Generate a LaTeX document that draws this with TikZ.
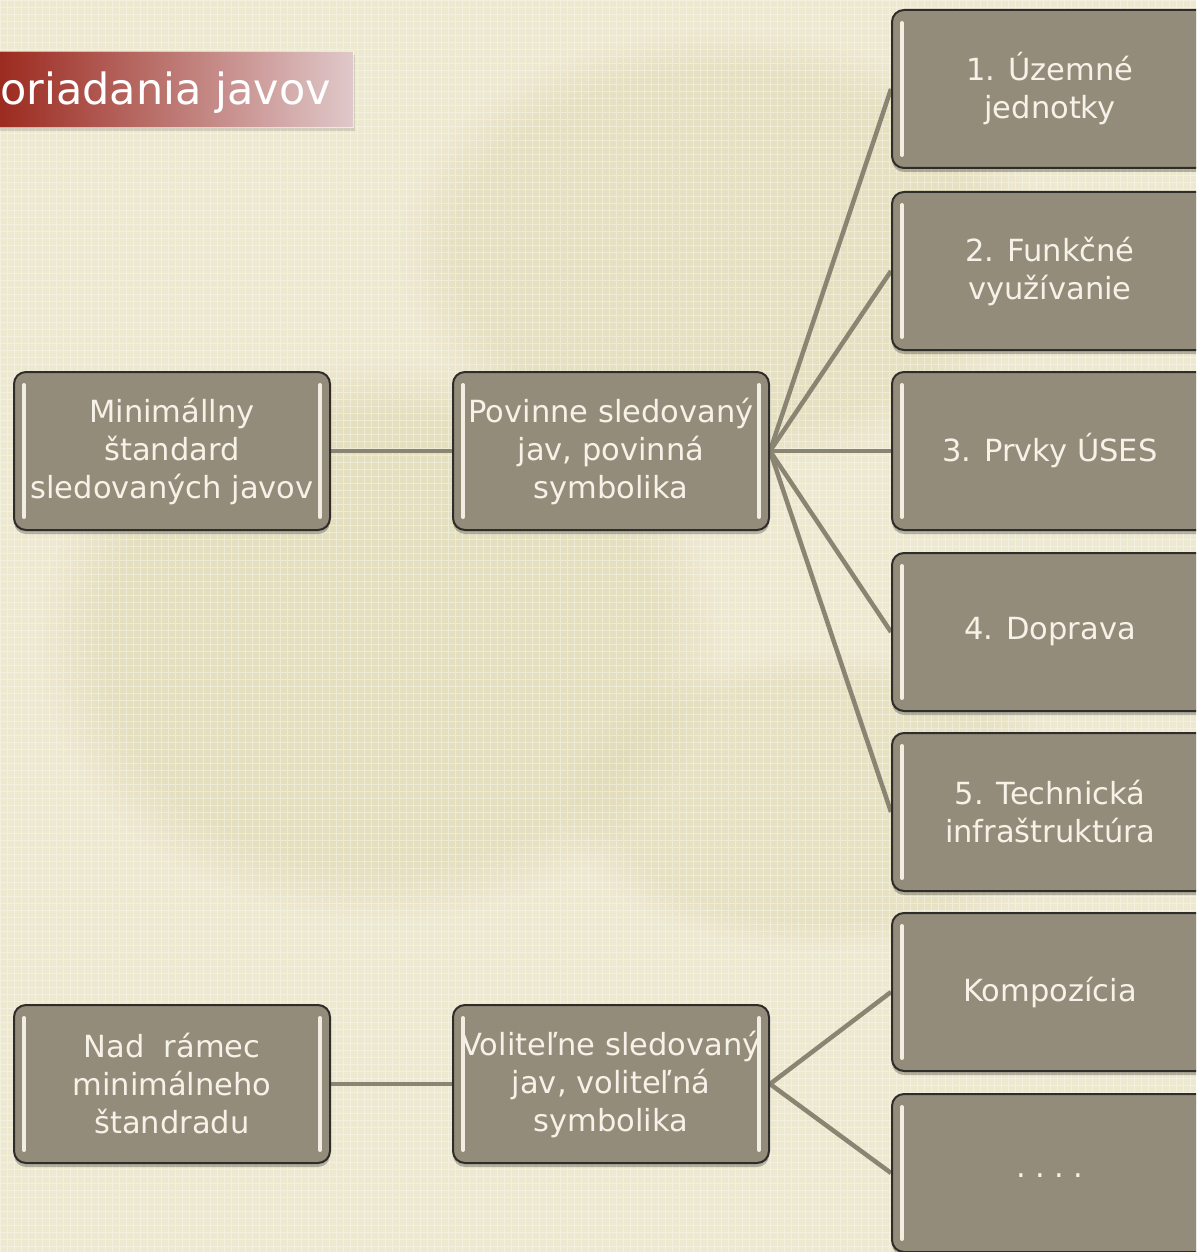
\documentclass[tikz,border=0pt]{standalone}
\usepackage{fontspec}
\setmainfont{DejaVu Sans}
\usetikzlibrary{shadows,fadings}
\definecolor{bgbase}{HTML}{EDE8D0}
\definecolor{bgpatch}{HTML}{D8D2A6}
\definecolor{boxfill}{HTML}{948C7B}
\definecolor{boxedge}{HTML}{2E2D29}
\definecolor{boxtext}{HTML}{F6F2E8}
\definecolor{barcol}{HTML}{F2EEE2}
\definecolor{linecol}{HTML}{8A8473}
\definecolor{titleL}{HTML}{982216}
\definecolor{titleM}{HTML}{AE5E55}
\definecolor{titleR}{HTML}{E0C8CA}
\pgfdeclarelayer{bglayer}
\pgfdeclarelayer{linelayer}
\pgfsetlayers{bglayer,linelayer,main}
\tikzset{
  box/.style={draw=boxedge, line width=2pt, fill=boxfill, rounded corners=12pt,
    minimum width=316pt, minimum height=158pt, inner sep=0pt,
    text=boxtext, align=center,
    font=\fontsize{30.5}{38}\selectfont,
    drop shadow={shadow xshift=0pt, shadow yshift=-4pt, opacity=0.25, fill=black}},
  bar/.style={draw=barcol, line width=4pt, line cap=round},
  conn/.style={draw=linecol, line width=4.5pt},
  patch/.style={fill=bgpatch, path fading=circle with fuzzy edge 20 percent}
}
\begin{document}
\begin{tikzpicture}[x=1pt,y=-1pt]
\useasboundingbox (0,0) rectangle (1196,1252);
\clip (0,0) rectangle (1196,1252);
\begin{pgfonlayer}{bglayer}
  \fill[bgbase] (0,0) rectangle (1196,1252);
  \fill[patch, opacity=0.4] (380,640) ellipse (340pt and 280pt);
  \fill[patch, opacity=0.35] (720,250) ellipse (320pt and 220pt);
  \fill[patch, opacity=0.3] (820,800) ellipse (260pt and 150pt);
  \draw[white, opacity=0.35, line width=0.6pt, step=7pt] (0,0) grid (1196,1252);
\end{pgfonlayer}

% title bar
\shade[left color=titleL, middle color=titleM, right color=titleR, draw=white, draw opacity=0.6, line width=1pt,
  drop shadow={shadow xshift=2pt, shadow yshift=-3pt, opacity=0.25}]
  (-20,52) rectangle (353,128);
\node[anchor=base west, text=white, inner sep=0pt, font=\fontsize{43}{48}\selectfont] (title) at (0,105) {oriadania javov};

% left column
\node[box] (a) at (172,451) {Minimállny\\štandard\\sledovaných javov};
\node[box] (c) at (172,1084) {Nad\ \ rámec\\minimálneho\\štandradu};
% middle column
\node[box] (b) at (611,451) {Povinne sledovaný\\jav, povinná\\symbolika};
\node[box] (d) at (611,1084) {Voliteľne sledovaný\\jav, voliteľná\\symbolika};
% right column
\node[box] (r1) at (1050,89) {1. Územné\\jednotky};
\node[box] (r2) at (1050,271) {2. Funkčné\\využívanie};
\node[box] (r3) at (1050,451) {3. Prvky ÚSES};
\node[box] (r4) at (1050,632) {4. Doprava};
\node[box] (r5) at (1050,812) {5. Technická\\infraštruktúra};
\node[box] (r6) at (1050,992) {Kompozícia};
\node[box] (r7) at (1050,1173) {\raisebox{-8pt}{.\hspace{0.3em}.\hspace{0.3em}.\hspace{0.3em}.}};

\foreach \n in {a,b,c,d,r1,r2,r3,r4,r5,r6,r7}{
  \draw[bar] ([xshift=11pt,yshift=-14pt]\n.north west) -- ([xshift=11pt,yshift=14pt]\n.south west);
  \draw[bar] ([xshift=-11pt,yshift=-14pt]\n.north east) -- ([xshift=-11pt,yshift=14pt]\n.south east);
}

\begin{pgfonlayer}{linelayer}
  \draw[conn] (a.east) -- (b.west);
  \draw[conn] (c.east) -- (d.west);
  \foreach \r in {r1,r2,r3,r4,r5}{ \draw[conn] (b.east) -- (\r.west); }
  \foreach \r in {r6,r7}{ \draw[conn] (d.east) -- (\r.west); }
\end{pgfonlayer}
\end{tikzpicture}
\end{document}
